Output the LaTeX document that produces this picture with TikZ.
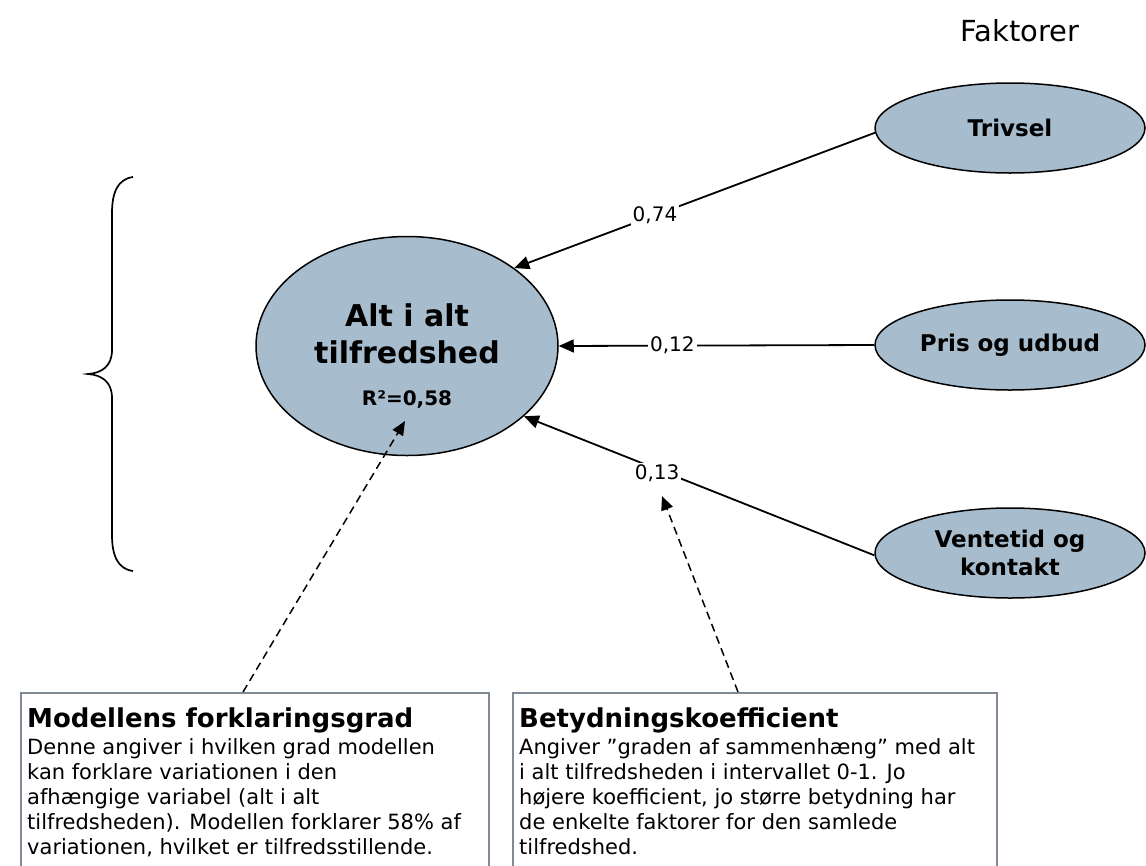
\documentclass[tikz,border=0pt]{standalone}
\usepackage{fontspec}
\setmainfont{DejaVu Sans}
\usetikzlibrary{arrows.meta,shapes.geometric}
\definecolor{ellblue}{RGB}{167,188,205}
\definecolor{boxgray}{RGB}{128,138,148}
\begin{document}
\begin{tikzpicture}[x=1pt,y=-1pt,
  factor/.style={ellipse, draw=black, line width=1.5pt, fill=ellblue,
    minimum width=270pt, minimum height=90pt, inner sep=0pt,
    font=\fontsize{23}{28}\selectfont\bfseries, align=center},
  mainell/.style={ellipse, draw=black, line width=1.5pt, fill=ellblue,
    minimum width=302pt, minimum height=219pt, inner sep=0pt},
  maintxt/.style={font=\fontsize{30}{36}\selectfont\bfseries, inner sep=0pt},
  rtxt/.style={font=\fontsize{20}{24}\selectfont\bfseries, inner sep=0pt},
  coef/.style={font=\fontsize{20}{24}\selectfont, fill=white, inner sep=2pt},
  solidarrow/.style={line width=1.8pt, -{Triangle[length=15pt,width=13pt]}},
  dasharrow/.style={line width=1.5pt, dash pattern=on 8pt off 5pt,
    -{Triangle[length=14pt,width=12pt]}},
  infobox/.style={draw=boxgray, line width=1.5pt, fill=white, inner sep=0pt, anchor=north west},
  boxtitle/.style={font=\fontsize{26}{30}\selectfont\bfseries, inner sep=0pt, anchor=base west},
  boxbody/.style={inner sep=0pt, anchor=base west},
  bracestyle/.style={line width=1.7pt}
]
\useasboundingbox (0,0) rectangle (1146,865);
\clip (0,0) rectangle (1146,865);

% heading
\node[font=\fontsize{29}{34}\selectfont, inner sep=0pt, anchor=base] (fak) at (1020,41) {Faktorer};

% brace
\draw[bracestyle] (133,177) .. controls (118,179) and (112,192) .. (112,213)
  -- (112,350) .. controls (112,366) and (102,373) .. (88,374)
  .. controls (102,375) and (112,382) .. (112,398)
  -- (112,535) .. controls (112,556) and (118,569) .. (133,571);

% main ellipse
\node[mainell] (main) at (407,346) {};
\node[maintxt, anchor=base] (mt1) at (407,326) {Alt i alt};
\node[maintxt, anchor=base] (mt2) at (407,363) {tilfredshed};
\node[rtxt, anchor=base] (r2) at (407,405) {R²=0,58};

% factors
\node[factor] (triv) at (1010,128) {Trivsel};
\node[factor] (pris) at (1010,345) {Pris og udbud};
\node[factor] (vent) at (1010,553) {Ventetid og\\kontakt};

% connectors
\draw[solidarrow] (triv.182) -- node[coef, pos=0.61] (c1) {0,74} (main.36);
\draw[solidarrow] (pris.west) -- node[coef, pos=0.64] (c2) {0,12} (main.east);
\draw[solidarrow] (vent.181) -- node[coef, pos=0.62, yshift=-4pt] (c3) {0,13} (main.-31);

% info boxes
\node[infobox, minimum width=468pt, minimum height=200pt] (box1) at (20,692) {};
\node[infobox, minimum width=484pt, minimum height=200pt] (box2) at (512,692) {};

\node[boxtitle] (t1) at (27,727) {Modellens forklaringsgrad};
\node[boxbody] (b1) at (27,754) {\parbox[t]{460pt}{\raggedright\fontsize{21}{25}\selectfont
Denne angiver i hvilken grad modellen\\
kan forklare variationen i den\\
afhængige variabel (alt i alt\\
tilfredsheden). Modellen forklarer 58\% af\\
variationen, hvilket er tilfredsstillende.}};

\node[boxtitle] (t2) at (519,727) {Betydningskoefficient};
\node[boxbody] (b2) at (519,754) {\parbox[t]{475pt}{\raggedright\fontsize{21}{25}\selectfont
Angiver ”graden af sammenhæng” med alt\\
i alt tilfredsheden i intervallet 0-1. Jo\\
højere koefficient, jo større betydning har\\
de enkelte faktorer for den samlede\\
tilfredshed.}};

% dashed pointers
\coordinate (d1s) at (243,692);
\coordinate (d1e) at (405,421);
\coordinate (d2s) at (738,692);
\coordinate (d2e) at (662,496);
\draw[dasharrow] (d1s) -- (d1e);
\draw[dasharrow] (d2s) -- (d2e);
\end{tikzpicture}
\end{document}
